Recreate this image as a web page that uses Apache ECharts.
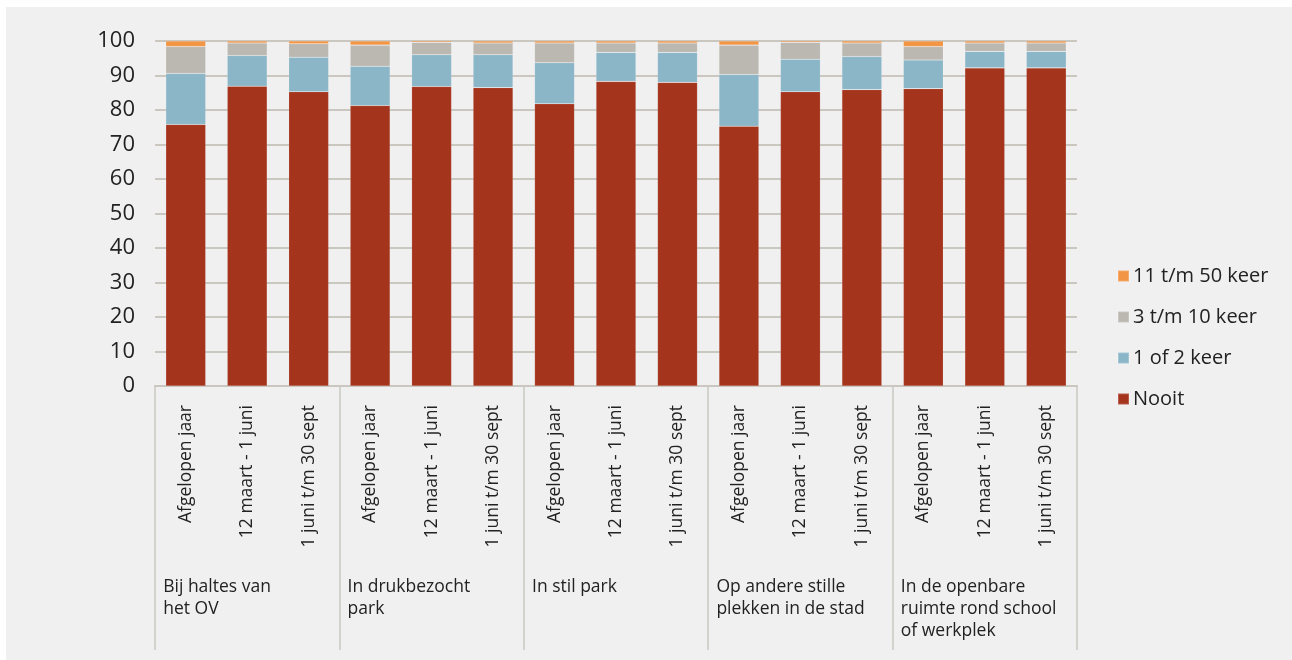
<!DOCTYPE html>
<html>
<head>
<meta charset="utf-8">
<script src="https://cdn.jsdelivr.net/npm/echarts@6/dist/echarts.min.js"></script>
<style>
html,body{margin:0;padding:0;background:#ffffff;}
#wrap{position:absolute;left:6px;top:7px;width:1286px;height:653px;background:#f0f0f0;}
#chart{position:absolute;left:-6px;top:-7px;width:1292px;height:660px;}
</style>
</head>
<body>
<div id="wrap"><div id="chart"></div></div>
<script>
const periods = [
  'Afgelopen jaar','12 maart - 1 juni','1 juni t/m 30 sept',
  'Afgelopen jaar','12 maart - 1 juni','1 juni t/m 30 sept',
  'Afgelopen jaar','12 maart - 1 juni','1 juni t/m 30 sept',
  'Afgelopen jaar','12 maart - 1 juni','1 juni t/m 30 sept',
  'Afgelopen jaar','12 maart - 1 juni','1 juni t/m 30 sept'
];
const groups = [
  'Bij haltes van\nhet OV',
  'In drukbezocht\npark',
  'In stil park',
  'Op andere stille\nplekken in de stad',
  'In de openbare\nruimte rond school\nof werkplek'
];
const seriesNames = ['Nooit','1 of 2 keer','3 t/m 10 keer','11 t/m 50 keer'];
const nooit    = [75.8, 86.9, 85.3, 81.3, 86.8, 86.5, 81.8, 88.3, 88.0, 75.3, 85.3, 85.9, 86.2, 92.2, 92.2];
const eenOfTwee= [14.8,  8.9, 10.0, 11.4,  9.2,  9.5, 11.9,  8.4,  8.7, 15.0,  9.4,  9.6,  8.3,  4.8,  4.8];
const drieTien = [ 7.8,  3.6,  3.9,  6.1,  3.6,  3.4,  5.7,  2.7,  2.7,  8.5,  4.9,  3.9,  3.9,  2.4,  2.4];
const elfVijftig=[ 1.6,  0.6,  0.8,  1.2,  0.4,  0.6,  0.6,  0.6,  0.6,  1.2,  0.4,  0.6,  1.6,  0.6,  0.6];
const yTicks = [0, 100, 10];

const colors = ['#a5341d', '#8bb6c8', '#bbb8b1', '#f29545'];
const values = [nooit, eenOfTwee, drieTien, elfVijftig];
const FONT = '"Open Sans", Lato, sans-serif';

const chart = echarts.init(document.getElementById('chart'), null, {renderer: 'canvas'});
chart.setOption({
  backgroundColor: 'transparent',
  animation: false,
  textStyle: {fontFamily: FONT},
  grid: {left: 155, right: 215, top: 41, bottom: 274, containLabel: false},
  legend: {
    orient: 'vertical',
    left: 1112,
    top: 261,
    itemWidth: 11,
    itemHeight: 11,
    itemGap: 21,
    icon: 'rect',
    data: seriesNames.slice().reverse(),
    textStyle: {fontSize: 20, color: '#222', fontFamily: FONT, padding: [0,0,0,-1]}
  },
  xAxis: [
    {
      type: 'category',
      data: periods,
      position: 'bottom',
      axisLine: {show: false},
      axisTick: {show: false},
      axisLabel: {rotate: 90, fontSize: 17.5, color: '#222', margin: 19, interval: 0, fontFamily: FONT}
    },
    {
      type: 'category',
      data: groups,
      position: 'bottom',
      axisLine: {show: true, lineStyle: {color: '#c9c7c0', width: 2}},
      axisTick: {show: true, length: 264, lineStyle: {color: '#c9c7c0', width: 1.5}},
      axisLabel: {
        interval: 0,
        margin: 190,
        align: 'center',
        verticalAlign: 'top',
        formatter: v => v.split('\n').map(l => '{a|' + l + '}').join('\n'),
        rich: {a: {width: 168, align: 'left', fontSize: 17.5, lineHeight: 22, color: '#222', fontFamily: FONT}}
      }
    }
  ],
  yAxis: {
    type: 'value',
    min: yTicks[0],
    max: yTicks[1],
    interval: yTicks[2],
    axisLine: {show: false},
    axisTick: {show: false},
    axisLabel: {fontSize: 22, color: '#222', margin: 20, fontFamily: FONT},
    splitLine: {lineStyle: {color: '#c9c7c0', width: 2}}
  },
  series: seriesNames.map((name, i) => ({
    name: name,
    type: 'bar',
    stack: 'total',
    xAxisIndex: 0,
    barWidth: '65%',
    data: values[i],
    itemStyle: {color: colors[i], borderColor: 'rgba(255,255,255,0.2)', borderWidth: 0.6}
  }))
});
</script>
</body>
</html>
